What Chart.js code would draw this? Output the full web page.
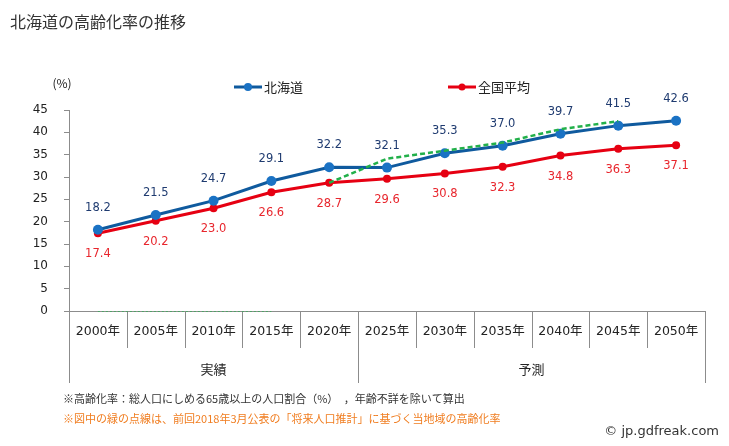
<!DOCTYPE html>
<html>
<head>
<meta charset="utf-8">
<script src="https://cdn.jsdelivr.net/npm/chart.js@4.4.1/dist/chart.umd.min.js"></script>
<style>
  html, body { margin: 0; padding: 0; background: #fff; }
  #wrap { width: 729px; height: 446px; position: relative; }
</style>
</head>
<body>
<div id="wrap"><canvas id="aging-chart" width="729" height="446"></canvas></div>
<script>
const years = ['2000年', '2005年', '2010年', '2015年', '2020年', '2025年', '2030年', '2035年', '2040年', '2045年', '2050年'];
const hokkaido = [18.2, 21.5, 24.7, 29.1, 32.2, 32.1, 35.3, 37.0, 39.7, 41.5, 42.6];
const national = [17.4, 20.2, 23.0, 26.6, 28.7, 29.6, 30.8, 32.3, 34.8, 36.3, 37.1];
// previous (2018) projection, green dotted line
const prevProjection = [0, 0, 0, 0, 28.7, 34.1, 35.9, 37.7, 40.7, 42.5, null];
const groups = [
  { label: '実績', from: 0, to: 4 },
  { label: '予測', from: 5, to: 10 }
];
const yMin = 0, yMax = 45, yStep = 5;

const titleText = '北海道の高齢化率の推移';
const unitText = '(%)';
const note1 = '※高齢化率：総人口にしめる65歳以上の人口割合（%）　，年齢不詳を除いて算出';
const note2 = '※図中の緑の点線は、前回2018年3月公表の「将来人口推計」に基づく当地域の高齢化率';
const credit = '© jp.gdfreak.com';

const BLUE_LINE = '#0f5a9e';
const BLUE_DOT = '#1a72c4';
const BLUE_TEXT = '#1f3b70';
const RED = '#e60012';
const RED_TEXT = '#e8262d';
const GREEN = '#22b04a';
const AXIS = '#8c8c8c';
const TEXT = '#222';
const CJK = '"Noto Sans CJK JP", "DejaVu Sans", sans-serif';
const NUM = '"DejaVu Sans", "Noto Sans CJK JP", sans-serif';

const canvas = document.getElementById('aging-chart');
const ctx = canvas.getContext('2d');

const decorPlugin = {
  id: 'decor',
  afterDatasetsDraw(chart) {
    const c = chart.ctx;
    c.save();
    c.textAlign = 'center';
    c.textBaseline = 'middle';
    c.font = '11.5px ' + NUM;
    // data labels
    chart.getDatasetMeta(0).data.forEach((pt, i) => {
      c.fillStyle = BLUE_TEXT;
      c.fillText(hokkaido[i].toFixed(1), pt.x, pt.y - 22);
    });
    chart.getDatasetMeta(1).data.forEach((pt, i) => {
      c.fillStyle = RED_TEXT;
      c.fillText(national[i].toFixed(1), pt.x, pt.y + 21);
    });
    c.restore();
  },
  afterDraw(chart) {
    const c = chart.ctx;
    const area = chart.chartArea;
    const x = chart.scales.x;
    const base = area.bottom;
    c.save();

    // x axis line and category frame
    c.strokeStyle = AXIS;
    c.lineWidth = 1;
    c.beginPath();
    c.moveTo(area.left, base + 0.5);
    c.lineTo(area.right, base + 0.5);
    const bounds = [area.left];
    for (let i = 0; i < years.length - 1; i++) {
      bounds.push((x.getPixelForValue(i) + x.getPixelForValue(i + 1)) / 2);
    }
    bounds.push(area.right);
    const groupEdges = [0, years.length];
    groups.forEach(g => groupEdges.push(g.to + 1));
    bounds.forEach((bx, i) => {
      const px = Math.round(bx) + 0.5;
      const long = groupEdges.includes(i);
      c.moveTo(px, base);
      c.lineTo(px, long ? base + 72 : base + 37);
    });
    c.stroke();

    // faint green dots along the baseline (previous projection = 0)
    c.strokeStyle = 'rgba(34,176,74,0.6)';
    c.setLineDash([2, 2]);
    c.beginPath();
    c.moveTo(x.getPixelForValue(0), base + 0.5);
    c.lineTo(x.getPixelForValue(3), base + 0.5);
    c.stroke();
    c.setLineDash([]);

    // year labels
    c.fillStyle = TEXT;
    c.textAlign = 'center';
    c.textBaseline = 'middle';
    c.font = '12.5px ' + NUM;
    years.forEach((y, i) => c.fillText(y, x.getPixelForValue(i), base + 21));

    // group labels
    c.font = '13px ' + CJK;
    groups.forEach(g => {
      const l = bounds[g.from], r = bounds[g.to + 1];
      c.fillText(g.label, (l + r) / 2, base + 58);
    });

    // title
    c.textAlign = 'left';
    c.font = '16px ' + CJK;
    c.fillStyle = '#333';
    c.fillText(titleText, 10, 22);

    // unit
    c.textAlign = 'center';
    c.font = '12px ' + CJK;
    c.fillStyle = TEXT;
    c.fillText(unitText, 62, 83);

    // legend
    const legend = [
      { label: '北海道', line: BLUE_LINE, dot: BLUE_DOT, r: 4, x: 234 },
      { label: '全国平均', line: RED, dot: RED, r: 3.5, x: 448 }
    ];
    legend.forEach(l => {
      c.strokeStyle = l.line;
      c.lineWidth = 3;
      c.beginPath();
      c.moveTo(l.x, 87);
      c.lineTo(l.x + 28, 87);
      c.stroke();
      c.fillStyle = l.dot;
      c.beginPath();
      c.arc(l.x + 14, 87, l.r, 0, Math.PI * 2);
      c.fill();
      c.fillStyle = TEXT;
      c.textAlign = 'left';
      c.font = '13px ' + CJK;
      c.fillText(l.label, l.x + 30, 87);
    });

    // notes
    c.font = '11px ' + CJK;
    c.fillStyle = '#333';
    c.fillText(note1, 63, 399);
    c.fillStyle = '#f07d20';
    c.fillText(note2, 63, 419);
    c.textAlign = 'right';
    c.fillStyle = '#333';
    c.font = '13px ' + NUM;
    c.fillText(credit, 719, 432);
    c.restore();
  }
};

new Chart(ctx, {
  type: 'line',
  data: {
    labels: years,
    datasets: [
      {
        label: '北海道',
        data: hokkaido,
        borderColor: BLUE_LINE,
        borderWidth: 3,
        pointRadius: 5,
        pointBackgroundColor: BLUE_DOT,
        pointBorderWidth: 0,
        tension: 0,
        order: 2
      },
      {
        label: '全国平均',
        data: national,
        borderColor: RED,
        borderWidth: 3,
        pointRadius: 4,
        pointBackgroundColor: RED,
        pointBorderWidth: 0,
        tension: 0,
        order: 3
      },
      {
        label: '前回推計',
        data: prevProjection,
        borderColor: GREEN,
        borderWidth: 2.5,
        borderDash: [5, 3],
        pointRadius: 0,
        tension: 0,
        order: 1,
        segment: {
          // the zero part is drawn as faint dots on the axis, the jump to 2020 is hidden
          borderColor: s => s.p0DataIndex <= 3 ? 'rgba(0,0,0,0)' : GREEN
        }
      }
    ]
  },
  options: {
    responsive: false,
    animation: false,
    layout: { padding: { top: 110, right: 24, bottom: 135, left: 0 } },
    plugins: {
      legend: { display: false },
      title: { display: false },
      tooltip: { enabled: false }
    },
    scales: {
      x: {
        type: 'category',
        display: false,
        offset: true
      },
      y: {
        min: yMin,
        max: yMax,
        afterFit: s => { s.width = 69; },
        ticks: {
          stepSize: yStep,
          padding: 16,
          color: TEXT,
          font: { family: 'DejaVu Sans', size: 12 }
        },
        grid: {
          drawOnChartArea: false,
          drawTicks: true,
          tickLength: 5,
          color: AXIS
        },
        border: { display: true, color: AXIS, width: 1 }
      }
    }
  },
  plugins: [decorPlugin]
});
</script>
</body>
</html>
